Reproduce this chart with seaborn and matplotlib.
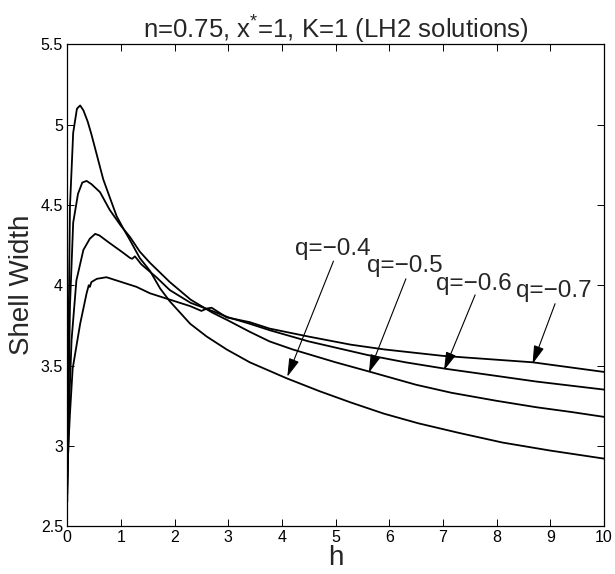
import matplotlib
matplotlib.use("Agg")
import matplotlib.pyplot as plt
import seaborn as sns
import pandas as pd
import numpy as np

# ---- data ----
h_q04 = [0, 0.02, 0.05, 0.11, 0.18, 0.24, 0.30, 0.38, 0.45, 0.56, 0.67, 0.80, 0.92, 1.05, 1.17, 1.35, 1.54,
         1.73, 1.91, 2.10, 2.29, 2.60, 2.97, 3.40, 4.09, 4.70, 5.28, 5.90, 6.54, 7.30, 8.11, 9.00, 10.0]
w_q04 = [2.65, 3.6, 4.49, 4.95, 5.10, 5.12, 5.09, 5.02, 4.94, 4.80, 4.66, 4.54, 4.43, 4.35, 4.28, 4.17, 4.09,
         3.98, 3.90, 3.83, 3.76, 3.68, 3.60, 3.52, 3.42, 3.34, 3.27, 3.20, 3.14, 3.08, 3.02, 2.97, 2.92]

h_q05 = [0, 0.02, 0.05, 0.11, 0.20, 0.28, 0.36, 0.45, 0.61, 0.79, 1.00, 1.17, 1.35, 1.54, 1.91, 2.30,
         2.70, 3.00, 3.40, 3.77, 4.20, 5.00, 5.65, 6.50, 7.16, 8.00, 8.74, 9.40, 10.0]
w_q05 = [2.7, 3.2, 3.87, 4.39, 4.57, 4.64, 4.65, 4.63, 4.58, 4.47, 4.37, 4.30, 4.21, 4.14, 4.02, 3.91,
         3.83, 3.78, 3.71, 3.65, 3.60, 3.52, 3.46, 3.38, 3.33, 3.28, 3.24, 3.21, 3.18]

h_q06 = [0, 0.02, 0.04, 0.08, 0.17, 0.30, 0.42, 0.52, 0.60, 0.76, 1.01, 1.17, 1.21, 1.26, 1.31, 1.38,
         1.66, 1.91, 2.30, 2.70, 3.00, 3.40, 3.77, 4.50, 5.60, 6.30, 7.04, 8.00, 8.74, 10.0]
w_q06 = [2.75, 3.0, 3.3, 3.66, 4.03, 4.22, 4.29, 4.32, 4.31, 4.27, 4.21, 4.17, 4.165, 4.18, 4.16, 4.13,
         4.05, 3.97, 3.89, 3.84, 3.80, 3.76, 3.72, 3.65, 3.565, 3.52, 3.48, 3.435, 3.40, 3.35]

h_q07 = [0, 0.02, 0.05, 0.10, 0.24, 0.36, 0.40, 0.42, 0.45, 0.55, 0.73, 1.01, 1.29, 1.54, 1.82, 2.29,
         2.50, 2.60, 2.69, 2.97, 3.40, 3.77, 4.50, 5.28, 5.91, 7.00, 8.67, 10.0]
w_q07 = [2.8, 3.0, 3.2, 3.48, 3.76, 3.95, 4.0, 3.99, 4.02, 4.04, 4.05, 4.02, 3.99, 3.95, 3.92, 3.87,
         3.84, 3.855, 3.86, 3.80, 3.77, 3.73, 3.68, 3.63, 3.60, 3.56, 3.52, 3.46]

q_labels = ["q=\u22120.4", "q=\u22120.5", "q=\u22120.6", "q=\u22120.7"]
label_xy = [(4.24, 4.19), (5.58, 4.08), (6.88, 3.97), (8.37, 3.925)]
arrow_from = [(4.96, 4.15), (6.31, 4.04), (7.60, 3.94), (9.09, 3.885)]
arrow_to = [(4.10, 3.43), (5.62, 3.455), (7.02, 3.47), (8.67, 3.51)]

x_ticks = [0, 1, 2, 3, 4, 5, 6, 7, 8, 9, 10]
y_ticks = [2.5, 3.0, 3.5, 4.0, 4.5, 5.0, 5.5]
y_tick_labels = ["2.5", "3", "3.5", "4", "4.5", "5", "5.5"]

frames = []
for name, hh, ww in [("q04", h_q04, w_q04), ("q05", h_q05, w_q05),
                     ("q06", h_q06, w_q06), ("q07", h_q07, w_q07)]:
    frames.append(pd.DataFrame({"h": hh, "w": ww, "curve": name}))
df = pd.concat(frames, ignore_index=True)

sns.set_style("ticks")
plt.rcParams["font.family"] = ["Liberation Sans", "DejaVu Sans"]
plt.rcParams["mathtext.fontset"] = "custom"
plt.rcParams["mathtext.rm"] = "Liberation Sans"
plt.rcParams["mathtext.it"] = "Liberation Sans"

fig = plt.figure(figsize=(6.15, 5.74), dpi=100)
ax = fig.add_axes([0.1094, 0.0836, 0.8726, 0.8389])

sns.lineplot(data=df, x="h", y="w", units="curve", estimator=None, sort=False,
             color="black", linewidth=1.3, ax=ax, legend=False)

ax.set_xlim(0, 10)
ax.set_ylim(2.5, 5.5)
ax.set_xticks(x_ticks)
ax.set_xticklabels([str(t) for t in x_ticks])
ax.set_yticks(y_ticks)
ax.set_yticklabels(y_tick_labels)
ax.tick_params(direction="in", top=True, right=True, length=5, width=0.7,
               labelsize=11.5, pad=3, colors="black")
for s in ax.spines.values():
    s.set_visible(True)
    s.set_linewidth(0.9)
    s.set_color("black")

ax.set_xlabel("h", fontsize=20, labelpad=0)
ax.set_ylabel("Shell Width", fontsize=20, labelpad=4)
ax.set_title("n=0.75, x$^{*}$=1, K=1 (LH2 solutions)", fontsize=18.5, pad=4)

for lab, (tx, ty), (fx, fy), (ex, ey) in zip(q_labels, label_xy, arrow_from, arrow_to):
    ax.text(tx, ty, lab, fontsize=17.5, ha="left", va="baseline")
    ax.annotate("", xy=(ex, ey), xytext=(fx, fy),
                arrowprops=dict(arrowstyle="-|>,head_length=0.7,head_width=0.2",
                                color="black", lw=0.8,
                                mutation_scale=16, shrinkA=0, shrinkB=0))

fig.savefig("out.png", dpi=100, facecolor="white")
